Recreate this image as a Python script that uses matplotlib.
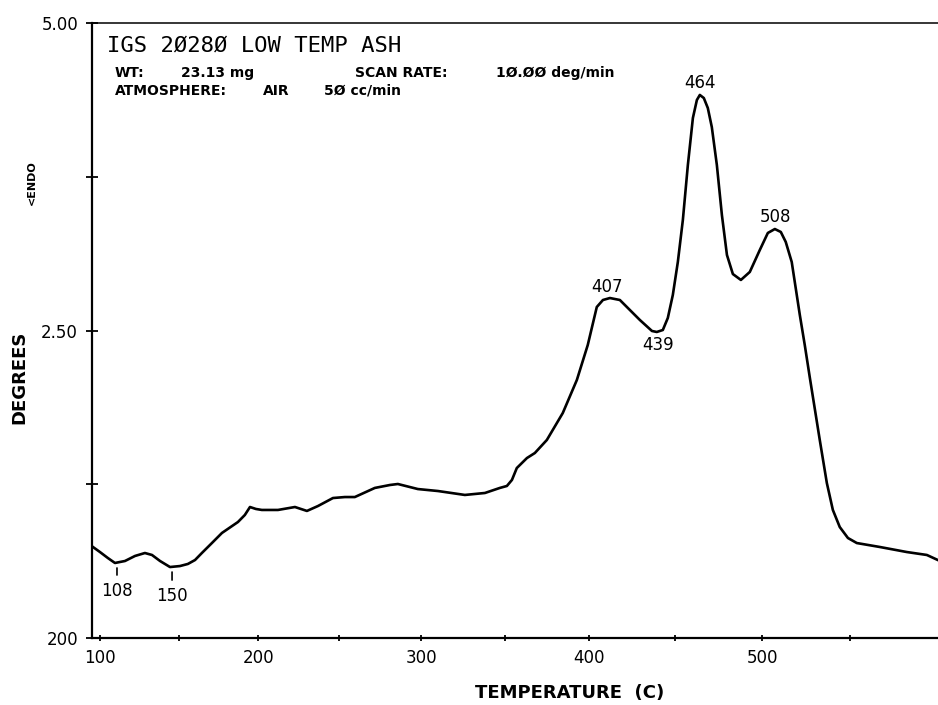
import numpy as np
import matplotlib
matplotlib.use("Agg")
import matplotlib.pyplot as plt

# DTA trace (temperature in C, signal in axis units 0..5)
temp = [95.5, 100.0, 105.1, 109.6, 116.0, 122.4, 128.7, 133.2, 138.3, 144.6,
        150.9, 155.9, 160.4, 164.7, 171.0, 177.3, 187.3, 191.6, 194.8, 198.5,
        202.2, 212.2, 222.7, 226.4, 230.1, 236.9, 246.1, 253.4, 259.5, 271.7,
        280.9, 285.7, 297.8, 309.9, 326.1, 338.1, 347.0, 351.2, 354.2, 357.1,
        363.1, 367.8, 374.9, 384.3, 392.6, 399.0, 404.3, 407.9, 412.0, 417.8,
        429.5, 436.5, 439.3, 442.8, 445.7, 448.6, 451.5, 454.4, 457.3, 460.2,
        462.5, 464.2, 466.5, 468.8, 471.1, 474.0, 476.9, 479.8, 483.2, 487.8,
        492.9, 498.6, 503.2, 507.2, 510.6, 513.4, 516.8, 521.4, 524.2, 527.1,
        532.7, 536.7, 540.1, 544.0, 548.6, 553.6, 566.5, 581.6, 592.8, 598.9]
signal = [0.740, 0.699, 0.650, 0.610, 0.626, 0.667, 0.691, 0.675, 0.626, 0.577,
          0.585, 0.602, 0.634, 0.691, 0.772, 0.854, 0.943, 1.000, 1.065, 1.049,
          1.041, 1.041, 1.065, 1.049, 1.033, 1.073, 1.138, 1.146, 1.146, 1.220,
          1.244, 1.252, 1.211, 1.195, 1.163, 1.179, 1.220, 1.236, 1.285, 1.382,
          1.463, 1.504, 1.610, 1.829, 2.098, 2.382, 2.691, 2.748, 2.764, 2.748,
          2.585, 2.496, 2.488, 2.504, 2.602, 2.789, 3.057, 3.398, 3.846, 4.228,
          4.374, 4.415, 4.390, 4.309, 4.154, 3.846, 3.439, 3.114, 2.959, 2.911,
          2.976, 3.154, 3.293, 3.325, 3.301, 3.220, 3.057, 2.626, 2.382, 2.114,
          1.610, 1.260, 1.041, 0.902, 0.813, 0.772, 0.740, 0.699, 0.675, 0.634]

peak_temps = [110.9, 145.9, 410.2, 440.0, 464.2, 507.7]
peak_vals = [0.610, 0.577, 2.764, 2.488, 4.415, 3.325]
peak_labels = ["108", "150", "407", "439", "464", "508"]

xticks_major = [100, 200, 300, 400, 500]
xticks_minor = [150, 250, 350, 450, 550]
yticks_major = [0.0, 2.5, 5.0]
yticks_minor = [1.25, 3.75]
ytick_labels = ["200", "2.50", "5.00"]


# the instrument's temperature axis is slightly stretched at the high end
def fwd(t):
    u = (np.asarray(t, dtype=float) - 100.0) / 50.0
    return 78.0 * u + 0.6 * u ** 2


def inv(p):
    p = np.asarray(p, dtype=float)
    return 100.0 + 50.0 * (-78.0 + np.sqrt(np.maximum(6084.0 + 2.4 * p, 0.0))) / 1.2


W, H = 938, 705
fig = plt.figure(figsize=(W / 100, H / 100), dpi=100)
ax = fig.add_axes([92 / W, 67 / H, 846 / W, 615 / H])
ax.set_xscale("function", functions=(fwd, inv))

ax.plot(temp, signal, color="black", linewidth=1.9, solid_joinstyle="round")

ax.set_xlim(94.9, 599.0)
ax.set_ylim(0, 5)

ax.set_xticks(xticks_major)
ax.set_xticks(xticks_minor, minor=True)
ax.set_xticklabels([str(t) for t in xticks_major])
ax.set_yticks(yticks_major)
ax.set_yticks(yticks_minor, minor=True)
ax.set_yticklabels(ytick_labels)

ax.tick_params(axis="both", which="both", direction="inout", width=1.3,
               labelsize=12, colors="black")
ax.tick_params(axis="x", which="both", length=4, pad=6)
ax.tick_params(axis="y", which="both", length=8, pad=6)

for side in ["left", "bottom"]:
    ax.spines[side].set_linewidth(1.6)
ax.spines["top"].set_linewidth(1.1)
ax.spines["right"].set_visible(False)

# peak annotations
offsets = {"108": -19, "150": -20, "407": 11, "439": -13, "464": 12, "508": 12}
for t, v, lbl in zip(peak_temps, peak_vals, peak_labels):
    dy = offsets[lbl] * 0.72
    if lbl in ("108", "150"):
        ax.annotate(lbl, xy=(t, v), xytext=(0, dy), textcoords="offset points",
                    ha="center", va="top", fontsize=12,
                    arrowprops=dict(arrowstyle="-", lw=1.2, color="black",
                                    shrinkA=3, shrinkB=3.6))
    else:
        ax.annotate(lbl, xy=(t, v), xytext=(0, dy), textcoords="offset points",
                    ha="center", va="center", fontsize=12)

# header block
def ftext(px, py, s, **kw):
    fig.text(px / W, 1 - py / H, s, va="center", ha="left", **kw)

ftext(107, 46, "IGS 2Ø28Ø LOW TEMP ASH", family="DejaVu Sans Mono", fontsize=16)
hdr = dict(fontsize=10, fontweight="bold")
ftext(115, 73, "WT:", **hdr)
ftext(181, 73, "23.13 mg", **hdr)
ftext(355, 73, "SCAN RATE:", **hdr)
ftext(496, 73, "1Ø.ØØ deg/min", **hdr)
ftext(115, 91, "ATMOSPHERE:", **hdr)
ftext(263, 91, "AIR", **hdr)
ftext(324, 91, "5Ø cc/min", **hdr)

fig.text(570 / W, 1 - 693 / H, "TEMPERATURE  (C)", ha="center", va="center",
         fontsize=13, fontweight="bold")
fig.text(19 / W, 1 - 377 / H, "DEGREES", ha="center", va="center",
         rotation=90, fontsize=13, fontweight="bold")
fig.text(32 / W, 1 - 183 / H, "<ENDO", ha="center", va="center",
         rotation=90, fontsize=8, fontweight="bold")

fig.savefig("out.png", dpi=100)
plt.close(fig)
